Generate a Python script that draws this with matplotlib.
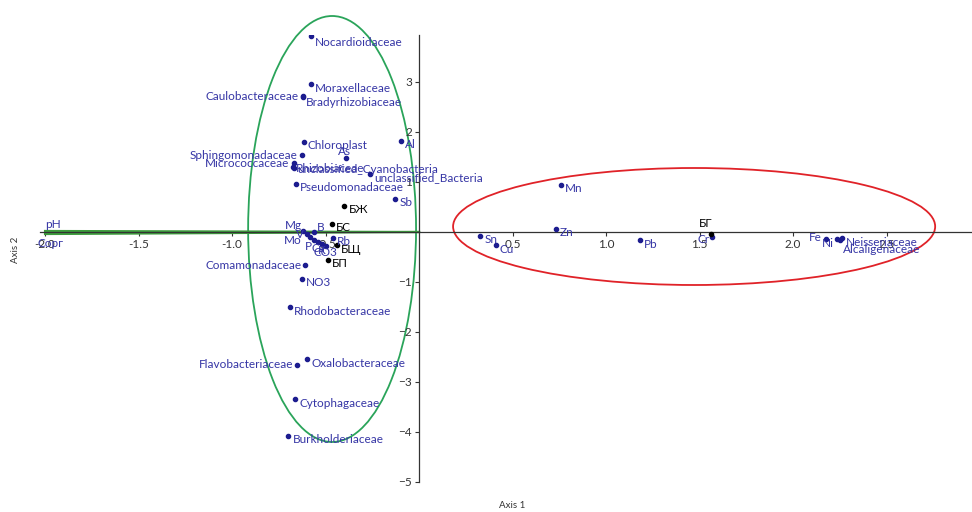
import matplotlib.pyplot as plt
from matplotlib.patches import Ellipse

plt.rcParams['font.family'] = ['Lato', 'DejaVu Sans']

# bacterial families (blue points)
taxa = ["Nocardioidaceae", "Moraxellaceae", "Caulobacteraceae", "Bradyrhizobiaceae",
        "Chloroplast", "Sphingomonadaceae", "Micrococcaceae", "Rhizobiaceae",
        "unclassified_Cyanobacteria", "unclassified_Bacteria", "Pseudomonadaceae",
        "Comamonadaceae", "Rhodobacteraceae", "Oxalobacteraceae", "Flavobacteriaceae",
        "Cytophagaceae", "Burkholderiaceae", "Neisseriaceae", "Alcaligenaceae"]
taxa_x = [-0.578, -0.578, -0.622, -0.618, -0.617, -0.627, -0.670, -0.672,
          -0.668, -0.262, -0.658, -0.608, -0.690, -0.600, -0.652, -0.663, -0.699,
          2.262, 2.250]
taxa_y = [3.92, 2.96, 2.71, 2.70, 1.81, 1.55, 1.39, 1.30, 1.28, 1.17, 0.97,
          -0.65, -1.50, -2.54, -2.66, -3.34, -4.07, -0.12, -0.15]

# chemical variables (blue points)
elems = ["Al", "As", "Sb", "Mg", "V", "B", "Mo", "P", "Ca", "K", "CO3", "Rb", "NO3",
         "Mn", "Zn", "Sn", "Cu", "Pb", "Cr", "Fe", "Ni"]
elems_x = [-0.098, -0.392, -0.128, -0.62, -0.60, -0.56, -0.585, -0.56, -0.54, -0.52,
           -0.50, -0.46, -0.627, 0.758, 0.731, 0.326, 0.410, 1.180, 1.568, 2.175, 2.235]
elems_y = [1.83, 1.48, 0.67, 0.02, -0.03, 0.00, -0.09, -0.15, -0.19, -0.23,
           -0.27, -0.11, -0.93, 0.95, 0.07, -0.07, -0.26, -0.16, -0.09, -0.14, -0.14]

# sites (black points)
sites = ["БЖ", "БС", "БЩ", "БП", "БГ"]
sites_x = [-0.40, -0.465, -0.44, -0.488, 1.561]
sites_y = [0.53, 0.17, -0.26, -0.55, -0.03]

# environmental vectors
vec_names = ["pH", "Сорг"]
vec_x = [-2.0, -2.0]
vec_y = [0.02, -0.04]

xticks = [-2.0, -1.5, -1.0, -0.5, 0.5, 1.0, 1.5, 2.0, 2.5]
yticks = [-5, -4, -3, -2, -1, 1, 2, 3]

# label offsets in points: (dx, dy, ha)
offs = {
    "Nocardioidaceae": (3, -5, "left"),
    "Caulobacteraceae": (-3, 0, "right"),
    "Bradyrhizobiaceae": (2, -4, "left"),
    "Sphingomonadaceae": (-3, -1, "right"),
    "Micrococcaceae": (-3, -1, "right"),
    "Rhizobiaceae": (2, -1, "left"),
    "unclassified_Cyanobacteria": (2, -1, "left"),
    "Comamonadaceae": (-3, -1, "right"),
    "Flavobacteriaceae": (-3, 0, "right"),
    "Alcaligenaceae": (2, -7, "left"),
    "As": (-1, 5, "center"),
    "Mg": (-1, 4, "right"),
    "V": (-2, -1, "right"),
    "B": (2, 3, "left"),
    "Mo": (-6, -3, "right"),
    "P": (-2, -5, "right"),
    "Ca": (0, -5, "center"),
    "K": (0, -5, "center"),
    "CO3": (0, -5, "center"),
    "Cr": (-2, -2, "right"),
    "Fe": (-3, 1, "right"),
    "Ni": (-2, -3, "right"),
    "БГ": (1, 7, "right"),
}
default_off = (3, -3, "left")

blue_pt = '#1c1c8f'
blue_txt = '#3535a5'

fig = plt.figure(figsize=(9.72, 5.12), dpi=100)
ax = fig.add_axes([40 / 972, 30 / 512, 932 / 972, 447 / 512])
ax.set_xlim(-2.027, 2.957)
ax.set_ylim(-5.0, 3.94)

for sp in ['top', 'right']:
    ax.spines[sp].set_visible(False)
ax.spines['left'].set_position(('data', 0))
ax.spines['bottom'].set_position(('data', 0))
for sp in ['left', 'bottom']:
    ax.spines[sp].set_color('#333333')
    ax.spines[sp].set_linewidth(0.9)
ax.set_xticks(xticks)
ax.set_yticks(yticks)
ax.set_xticklabels([f"{t:.1f}" for t in xticks])
ax.tick_params(labelsize=8.5, colors='#333333', length=3, width=0.8, pad=2)

# vectors
for vx, vy in zip(vec_x, vec_y):
    ax.plot([0, vx], [0, vy], color='#3c9b3c', lw=1.6, zorder=2)
ax.text(vec_x[0], 0.14, vec_names[0], color=blue_txt, fontsize=8.5,
        ha='left', va='center')
ax.text(vec_x[1] + 0.03, vec_y[1] - 0.08, vec_names[1], color=blue_txt, fontsize=8.5,
        ha='center', va='top')

ax.scatter(taxa_x, taxa_y, s=9, color=blue_pt, zorder=3)
ax.scatter(elems_x, elems_y, s=9, color=blue_pt, zorder=3)
ax.scatter(sites_x, sites_y, s=9, color='black', zorder=3)

def put(names, xs, ys, col):
    for n, x, y in zip(names, xs, ys):
        dx, dy, ha = offs.get(n, default_off)
        ax.annotate(n, (x, y), xytext=(dx, dy), textcoords='offset points',
                    ha=ha, va='center', fontsize=8.5, color=col, zorder=4)

put(taxa, taxa_x, taxa_y, blue_txt)
put(elems, elems_x, elems_y, blue_txt)
put(sites, sites_x, sites_y, 'black')

# group ellipses
ax.add_patch(Ellipse((-0.465, 0.06), 0.898, 8.52, fill=False, ec='#2aa45a', lw=1.3,
                     clip_on=False))
ax.add_patch(Ellipse((1.471, 0.11), 2.578, 2.34, fill=False, ec='#e02228', lw=1.3,
                     clip_on=False))

fig.text(512 / 972, 1 - 506 / 512, 'Axis 1', fontsize=7, color='#333333',
         ha='center', va='center')
fig.text(15 / 972, 1 - 250 / 512, 'Axis 2', fontsize=7, color='#333333',
         ha='center', va='center', rotation=90)

fig.savefig('out.png', dpi=100)
